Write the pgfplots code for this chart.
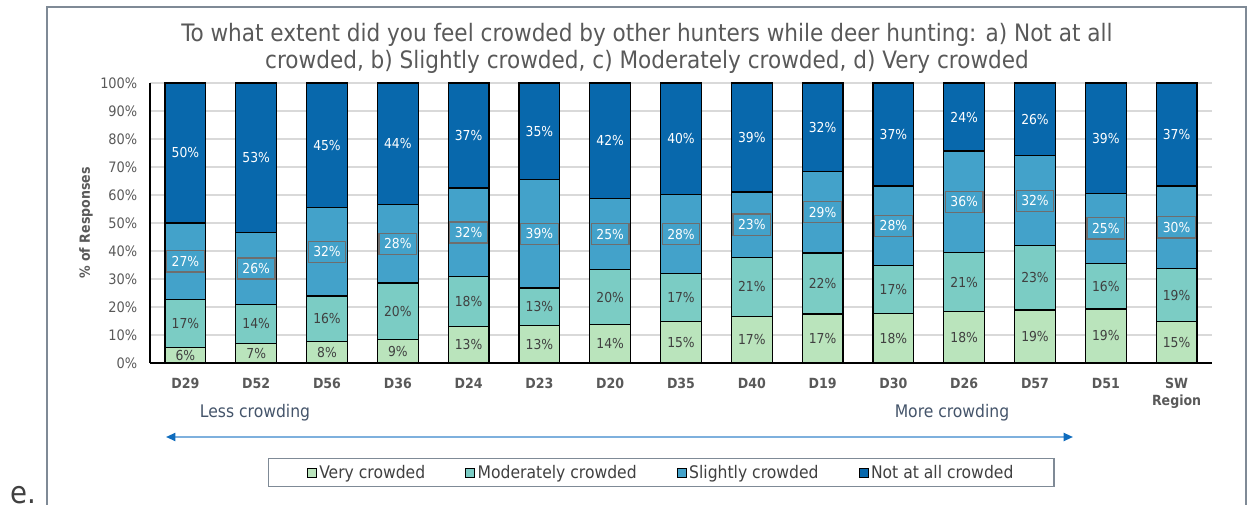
\documentclass[border=0pt]{standalone}
\usepackage{fontspec}
\setmainfont{DejaVu Sans Condensed}
\usepackage{pgfplots}
\pgfplotsset{compat=1.18}
\usepackage{pgfplotstable}
\usetikzlibrary{arrows.meta}

\definecolor{cvery}{HTML}{BAE4BC}
\definecolor{cmod}{HTML}{7BCCC4}
\definecolor{cslight}{HTML}{43A2CA}
\definecolor{cnot}{HTML}{0868AC}
\definecolor{txtgray}{HTML}{595959}
\definecolor{darktxt}{HTML}{404040}
\definecolor{slate}{HTML}{44546A}
\definecolor{framegray}{HTML}{7F8A96}
\definecolor{gridgray}{HTML}{D9D9D9}
\definecolor{arrowline}{HTML}{7EB0DD}
\definecolor{arrowhead}{HTML}{0F6CBD}
\definecolor{boxgray}{HTML}{6E6E6E}

% x: category index, v: share (%), l: printed label
\pgfplotstableread{
x v l
0 5.5 6
1 7.1 7
2 7.8 8
3 8.4 9
4 13.0 13
5 13.3 13
6 13.7 14
7 14.9 15
8 16.6 17
9 17.5 17
10 17.6 18
11 18.3 18
12 18.9 19
13 19.3 19
14 14.8 15
}\tvery
\pgfplotstableread{
x v l
0 17.1 17
1 13.7 14
2 16.1 16
3 20.2 20
4 17.8 18
5 13.5 13
6 19.6 20
7 17.0 17
8 21.1 21
9 21.8 22
10 17.2 17
11 21.1 21
12 23.0 23
13 16.3 16
14 18.9 19
}\tmod
\pgfplotstableread{
x v l
0 27.4 27
1 25.9 26
2 31.6 32
3 27.9 28
4 31.7 32
5 38.7 39
6 25.5 25
7 28.2 28
8 23.4 23
9 29.1 29
10 28.4 28
11 36.3 36
12 32.1 32
13 25.0 25
14 29.5 30
}\tslight
\pgfplotstableread{
x v l
0 50.0 50
1 53.3 53
2 44.5 45
3 43.5 44
4 37.5 37
5 34.5 35
6 41.2 42
7 39.9 40
8 38.9 39
9 31.6 32
10 36.8 37
11 24.3 24
12 26.0 26
13 39.4 39
14 36.8 37
}\tnot

\begin{document}
\begin{tikzpicture}
\begin{scope}[x=0.75pt,y=-0.75pt]
\path[use as bounding box] (0,0) rectangle (1248,505);
\draw[framegray,line width=1.1pt] (47,505) -- (47,7) -- (1246,7) -- (1246,505);
\node[text=txtgray, align=center, font=\fontsize{18}{20.25}\selectfont] at (647,48.5)
  {To what extent did you feel crowded by other hunters while deer hunting: a) Not at all\\crowded, b) Slightly crowded, c) Moderately crowded, d) Very crowded};
\node[text=txtgray, rotate=90, font=\bfseries\fontsize{10.5}{13}\selectfont] at (86,223) {\% of Responses};
\node[text=slate, font=\fontsize{13}{16}\selectfont] at (255,413) {Less crowding};
\node[text=slate, font=\fontsize{13}{16}\selectfont] at (952,413) {More crowding};
\draw[arrowline, line width=1.4pt,
  {Triangle[length=7pt,width=6pt,color=arrowhead]}-{Triangle[length=7pt,width=6pt,color=arrowhead]}]
  (166,437) -- (1073,437);
\node[text=darktxt, font=\fontsize{23}{26}\selectfont, anchor=base west, inner sep=0pt] at (10,503) {e.};
\end{scope}

\begin{axis}[
  at={(112.5pt,-272.25pt)}, anchor=south west,
  scale only axis, width=796.5pt, height=210pt,
  ybar stacked, bar width=0.575,
  xmin=-0.5, xmax=14.5, ymin=0, ymax=100,
  xtick={0,...,14},
  xticklabels={D29,D52,D56,D36,D24,D23,D20,D35,D40,D19,D30,D26,D57,D51,{SW\\Region}},
  x tick label style={align=center, font=\bfseries\fontsize{10.5}{12.75}\selectfont, text=txtgray, yshift=-8pt},
  ytick={0,10,...,100},
  yticklabel={\pgfmathprintnumber{\tick}\%},
  y tick label style={font=\fontsize{10.8}{13}\selectfont, text=txtgray, xshift=-6pt},
  /pgf/number format/assume math mode=true,
  major tick length=0pt,
  ymajorgrids, grid style={gridgray, line width=0.9pt},
  axis x line*=bottom, axis y line*=left,
  axis line style={black, line width=0.9pt, -},
  every axis plot/.append style={draw=black, line width=0.9pt},
  point meta=explicit symbolic,
  nodes near coords={\pgfplotspointmeta\%},
  nodes near coords align={anchor=center},
  every node near coord/.append style={font=\fontsize{10.3}{12}\selectfont},
  legend columns=4,
  legend style={at={(rel axis cs:0.4816,-0.391)}, anchor=center, draw=framegray, line width=0.9pt,
    font=\fontsize{13}{15}\selectfont, text=darktxt, inner xsep=28.5pt, inner ysep=2.8pt,
    /tikz/every even column/.append style={column sep=28pt}},
  legend image code/.code={\draw[#1, line width=0.6pt] (0pt,-3.4pt) rectangle (6.8pt,3.4pt);},
]
\addplot[fill=cvery, every node near coord/.append style={text=darktxt}]
  table[x=x, y=v, meta=l] {\tvery};
\addplot[fill=cmod, every node near coord/.append style={text=darktxt}]
  table[x=x, y=v, meta=l] {\tmod};
\addplot[fill=cslight,
  every node near coord/.append style={text=white, draw=boxgray, line width=1pt, inner xsep=3.8pt, inner ysep=4pt}]
  table[x=x, y=v, meta=l] {\tslight};
\addplot[fill=cnot, every node near coord/.append style={text=white}]
  table[x=x, y=v, meta=l] {\tnot};
\legend{Very crowded, Moderately crowded, Slightly crowded, Not at all crowded}
\end{axis}
\end{tikzpicture}
\end{document}
